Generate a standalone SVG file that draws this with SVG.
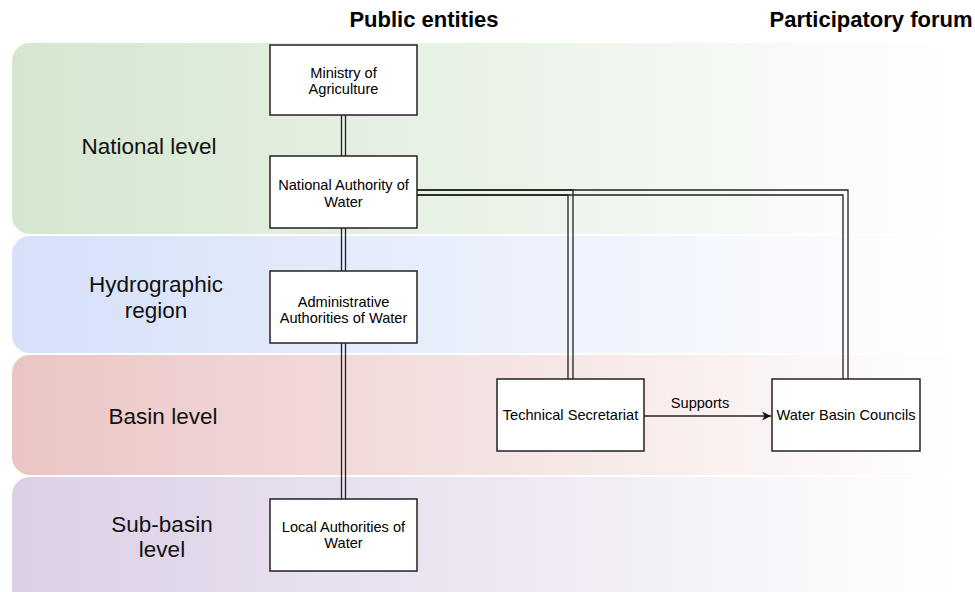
<svg xmlns="http://www.w3.org/2000/svg" width="975" height="592" viewBox="0 0 975 592">
<defs>
<linearGradient id="gG" gradientUnits="userSpaceOnUse" x1="12" y1="0" x2="960" y2="0"><stop offset="0" stop-color="#d5e6d0"/><stop offset="1" stop-color="#ffffff"/></linearGradient>
<linearGradient id="gB" gradientUnits="userSpaceOnUse" x1="12" y1="0" x2="960" y2="0"><stop offset="0" stop-color="#d6e0f9"/><stop offset="1" stop-color="#ffffff"/></linearGradient>
<linearGradient id="gR" gradientUnits="userSpaceOnUse" x1="12" y1="0" x2="960" y2="0"><stop offset="0" stop-color="#ebc5c5"/><stop offset="1" stop-color="#ffffff"/></linearGradient>
<linearGradient id="gP" gradientUnits="userSpaceOnUse" x1="12" y1="0" x2="960" y2="0"><stop offset="0" stop-color="#dccfe6"/><stop offset="1" stop-color="#ffffff"/></linearGradient>
<marker id="arr" markerWidth="10" markerHeight="10" refX="9" refY="5" orient="auto" markerUnits="userSpaceOnUse"><path d="M0,0.5 L9,5 L0,9.5 L2.5,5 Z" fill="#111"/></marker>
</defs>
<style>
.box{fill:#fff;stroke:#222;stroke-width:1.5}
.t{font-family:"Liberation Sans",Arial,sans-serif;font-size:14.6px;fill:#000;text-anchor:middle}
.band{font-family:"Liberation Sans",Arial,sans-serif;font-size:22.5px;fill:#111;text-anchor:middle}
.hdr{font-family:"Liberation Sans",Arial,sans-serif;font-size:22px;font-weight:bold;fill:#000;text-anchor:middle}
.ln{fill:none;stroke:#222;stroke-width:1.3}
</style>
<rect width="975" height="592" fill="#fff"/>
<g id="bands">
<rect x="12" y="43" width="990" height="191" rx="18" fill="url(#gG)"/>
<rect x="12" y="236" width="990" height="117" rx="18" fill="url(#gB)"/>
<rect x="12" y="355" width="990" height="120" rx="18" fill="url(#gR)"/>
<rect x="12" y="477" width="990" height="140" rx="18" fill="url(#gP)"/>
<text class="band" x="149" y="154">National level</text>
<text class="band" x="156" y="292">Hydrographic</text>
<text class="band" x="156" y="318">region</text>
<text class="band" x="163" y="424">Basin level</text>
<text class="band" x="162" y="532">Sub-basin</text>
<text class="band" x="162" y="557">level</text>
</g>
<g id="headers">
<text class="hdr" x="424" y="27">Public entities</text>
<text class="hdr" x="871" y="27">Participatory forum</text>
</g>
<g id="connectors">
<path class="ln" d="M341.5,115 V156 M345.5,115 V156"/>
<path class="ln" d="M341.5,228 V271 M345.5,228 V271"/>
<path class="ln" d="M341.5,343 V499 M345.5,343 V499"/>
<path class="ln" d="M417,190 H573 V379 M417,195 H568 V379"/>
<path class="ln" d="M417,190 H848 V379 M417,195 H843 V379"/>
<path class="ln" d="M644,416 H771" marker-end="url(#arr)"/>
<text class="t" x="700" y="408">Supports</text>
</g>
<g id="ministry">
<rect class="box" x="270" y="45" width="147" height="70"/>
<text class="t" x="343.5" y="78">Ministry of</text>
<text class="t" x="343.5" y="94">Agriculture</text>
</g>
<g id="naw">
<rect class="box" x="270" y="156" width="147" height="72"/>
<text class="t" x="343.5" y="190">National Authority of</text>
<text class="t" x="343.5" y="207">Water</text>
</g>
<g id="aaw">
<rect class="box" x="270" y="271" width="147" height="72"/>
<text class="t" x="343.5" y="307">Administrative</text>
<text class="t" x="343.5" y="323">Authorities of Water</text>
</g>
<g id="law">
<rect class="box" x="270" y="499" width="147" height="72"/>
<text class="t" x="343.5" y="532">Local Authorities of</text>
<text class="t" x="343.5" y="548">Water</text>
</g>
<g id="ts">
<rect class="box" x="497" y="379" width="147" height="72"/>
<text class="t" x="570.5" y="420">Technical Secretariat</text>
</g>
<g id="wbc">
<rect class="box" x="772" y="379" width="148" height="72"/>
<text class="t" x="846" y="420">Water Basin Councils</text>
</g>
</svg>
